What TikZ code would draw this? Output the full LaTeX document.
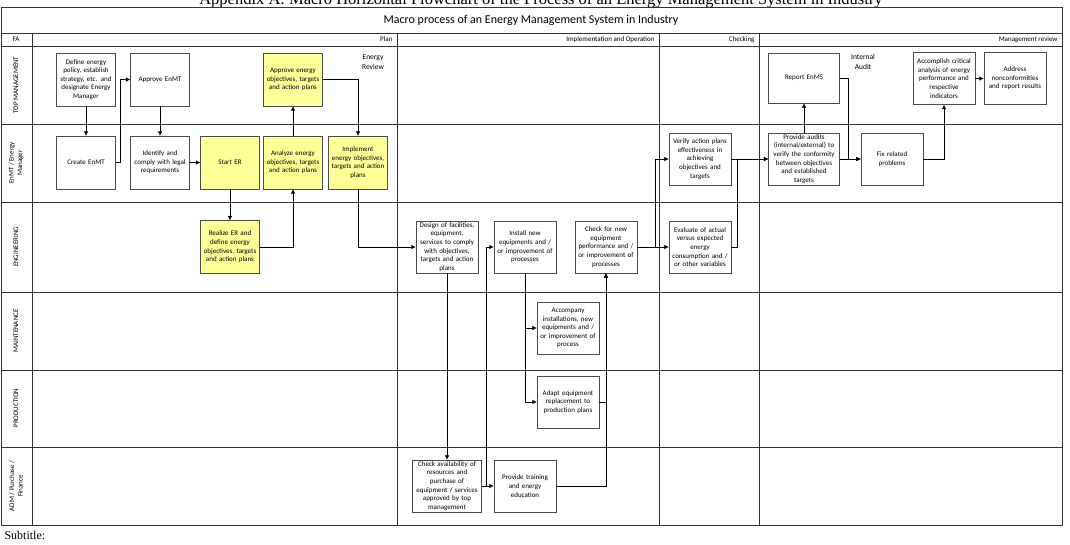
\documentclass[tikz,border=0pt]{standalone}
\usepackage{fontspec}
\setmainfont{Liberation Serif}
\newfontfamily\calibri{Carlito}
\usepackage{tikz}
\usetikzlibrary{calc,arrows.meta}
\definecolor{planyellow}{HTML}{FFFF99}

\begin{document}
\begin{tikzpicture}[
  x=1pt, y=-1pt,
  every node/.style={font=\calibri\fontsize{7}{8.6}\selectfont},
  box/.style={draw=black!70, fill=white, text width=60pt, inner sep=1pt, minimum height=52pt, align=center},
  pbox/.style={box, text width=57pt, minimum height=53pt},
  wbox/.style={box, text width=69pt},
  ybox/.style={pbox, fill=planyellow},
  lane/.style={draw=black!80, line width=0.9pt},
  lanename/.style={rotate=90, align=center, font=\calibri\fontsize{7}{8.4}\selectfont},
  phase/.style={anchor=east, font=\calibri\fontsize{7}{8}\selectfont},
  flow/.style={draw, line width=0.6pt, -{Latex[length=4.5pt,width=4.5pt]}}
]
\useasboundingbox (0,0) rectangle (1070,544);
\node[anchor=base, font=\rmfamily\fontsize{16.5}{18}\selectfont] (title) at (541,4.5) {Appendix A: Macro Horizontal Flowchart of the Process of an Energy Management System in Industry};
\draw[lane] (1,7) rectangle (1062,525);
\foreach \y in {33,46,124,202,292,370,447}
  \draw[lane] (1,\y) -- (1062,\y);
\foreach \x in {32,397,659,759}
  \draw[lane] (\x,33) -- (\x,525);
\node[font=\calibri\fontsize{12}{14}\selectfont] (macro) at (531,20) {Macro process of an Energy Management System in Industry};
\node[font=\calibri\fontsize{7}{8}\selectfont] (fa) at (16,39.5) {FA};
\node[phase] (plan) at (396,39.5) {Plan};
\node[phase] (impl) at (658,39.5) {Implementation and Operation};
\node[phase] (checking) at (758,39.5) {Checking};
\node[phase] (review) at (1061,39.5) {Management review};
\node[lanename] (top) at (16,85) {TOP MANAGEMENT};
\node[lanename] (enmt) at (16,163) {EnMT / Energy\\Manager};
\node[lanename] (eng) at (16,247) {ENGINEERING};
\node[lanename] (maint) at (16,331) {MAINTENANCE};
\node[lanename] (prod) at (16,408) {PRODUCTION};
\node[lanename] (adm) at (16,486) {ADM / Purchase /\\Finance};
\node[align=center, font=\calibri\fontsize{7.5}{9.5}\selectfont] (energyrev) at (373,62) {Energy\\Review};
\node[align=center, font=\calibri\fontsize{7.5}{9.5}\selectfont] (intaudit) at (863,62) {Internal\\Audit};

\node[pbox] (define) at (86,79.5) {Define energy\\policy, establish\\strategy, etc. and\\designate Energy\\Manager};
\node[pbox] (apenmt) at (160,79.5) {Approve EnMT};
\node[ybox] (apobj) at (293,79.5) {Approve energy\\objectives, targets\\and action plans};
\node[pbox] (create) at (86,162.5) {Create EnMT};
\node[pbox] (ident) at (160,162.5) {Identify and\\comply with legal\\requirements};
\node[ybox] (start) at (230,162.5) {Start ER};
\node[ybox] (analyze) at (293,162.5) {Analyze energy\\objectives, targets\\and action plans};
\node[ybox] (implement) at (358,162.5) {Implement\\energy objectives,\\targets and action\\plans};
\node[ybox] (realize) at (230,247) {Realize ER and\\define energy\\objectives, targets\\and action plans};
\node[box] (design) at (447,247) {Design of facilities,\\equipment,\\services to comply\\with objectives,\\targets and action\\plans};
\node[box] (install) at (525,247) {Install new\\equipments and /\\or improvement of\\processes};
\node[box] (checknew) at (606,247) {Check for new\\equipment\\performance and /\\or improvement of\\processes};
\node[box] (evaluate) at (700,247) {Evaluate of actual\\versus expected\\energy\\consumption and /\\or other variables};
\node[box] (accompany) at (568,328) {Accompany\\installations, new\\equipments and /\\or improvement of\\process};
\node[box] (adapt) at (568,402) {Adapt equipment\\replacement to\\production plans};
\node[box, text width=67pt] (avail) at (447,486) {Check availability of\\resources and\\purchase of\\equipment / services\\approved by top\\management};
\node[box] (training) at (525,486) {Provide training\\and energy\\education};
\node[box] (verify) at (700,159) {Verify action plans\\effectiveness in\\achieving\\objectives and\\targets};
\node[wbox] (audits) at (804,159) {Provide audits\\(internal/external) to\\verify the conformity\\between objectives\\and established\\targets};
\node[box] (fix) at (892,159) {Fix related\\problems};
\node[wbox, minimum height=50pt] (report) at (804,78) {Report EnMS};
\node[box] (critical) at (944,78.5) {Accomplish critical\\analysis of energy\\performance and\\respective\\indicators};
\node[box] (address) at (1015,78.5) {Address\\nonconformities\\and report results};

\draw[flow] (define) -- (create);
\draw[flow] (create.east) -- ++(5,0) |- (apenmt.west);
\draw[flow] (apenmt) -- (ident);
\draw[flow] (ident) -- (start);
\draw[flow] (start) -- (realize);
\draw[flow] (realize.east) -| (analyze.south);
\draw[flow] (analyze) -- (apobj);
\draw[flow] (apobj.east) -| (implement.north);
\draw[flow] (implement.south) |- (design.west);
\draw[flow] (design) -- (avail);
\draw[flow] (avail) -- (training);
\draw[flow] (avail.east) -- ++(5,0) |- (install.west);
\draw[flow] (install.south) |- (accompany.west);
\draw[flow] (install.south) |- (adapt.west);
\draw[flow] (adapt.east) -| (checknew.south);
\draw[flow] (training.east) -| (checknew.south);
\draw[flow] (checknew) -- (evaluate);
\draw[flow] (checknew.east) -- ++(18,0) |- (verify.west);
\draw[flow] (verify) -- (audits);
\draw[flow] (evaluate.east) -- ++(6,0) |- (audits.west);
\draw[flow] (audits) -- (report);
\draw[flow] (audits) -- (fix);
\draw[flow] (report.east) -- ++(9,0) |- (fix.west);
\draw[flow] (fix.east) -| (critical.south);
\draw[flow] (critical) -- (address);

\node[anchor=base west, font=\rmfamily\fontsize{12}{14}\selectfont] (subtitle) at (1,539) {Subtitle:};
\end{tikzpicture}
\end{document}
